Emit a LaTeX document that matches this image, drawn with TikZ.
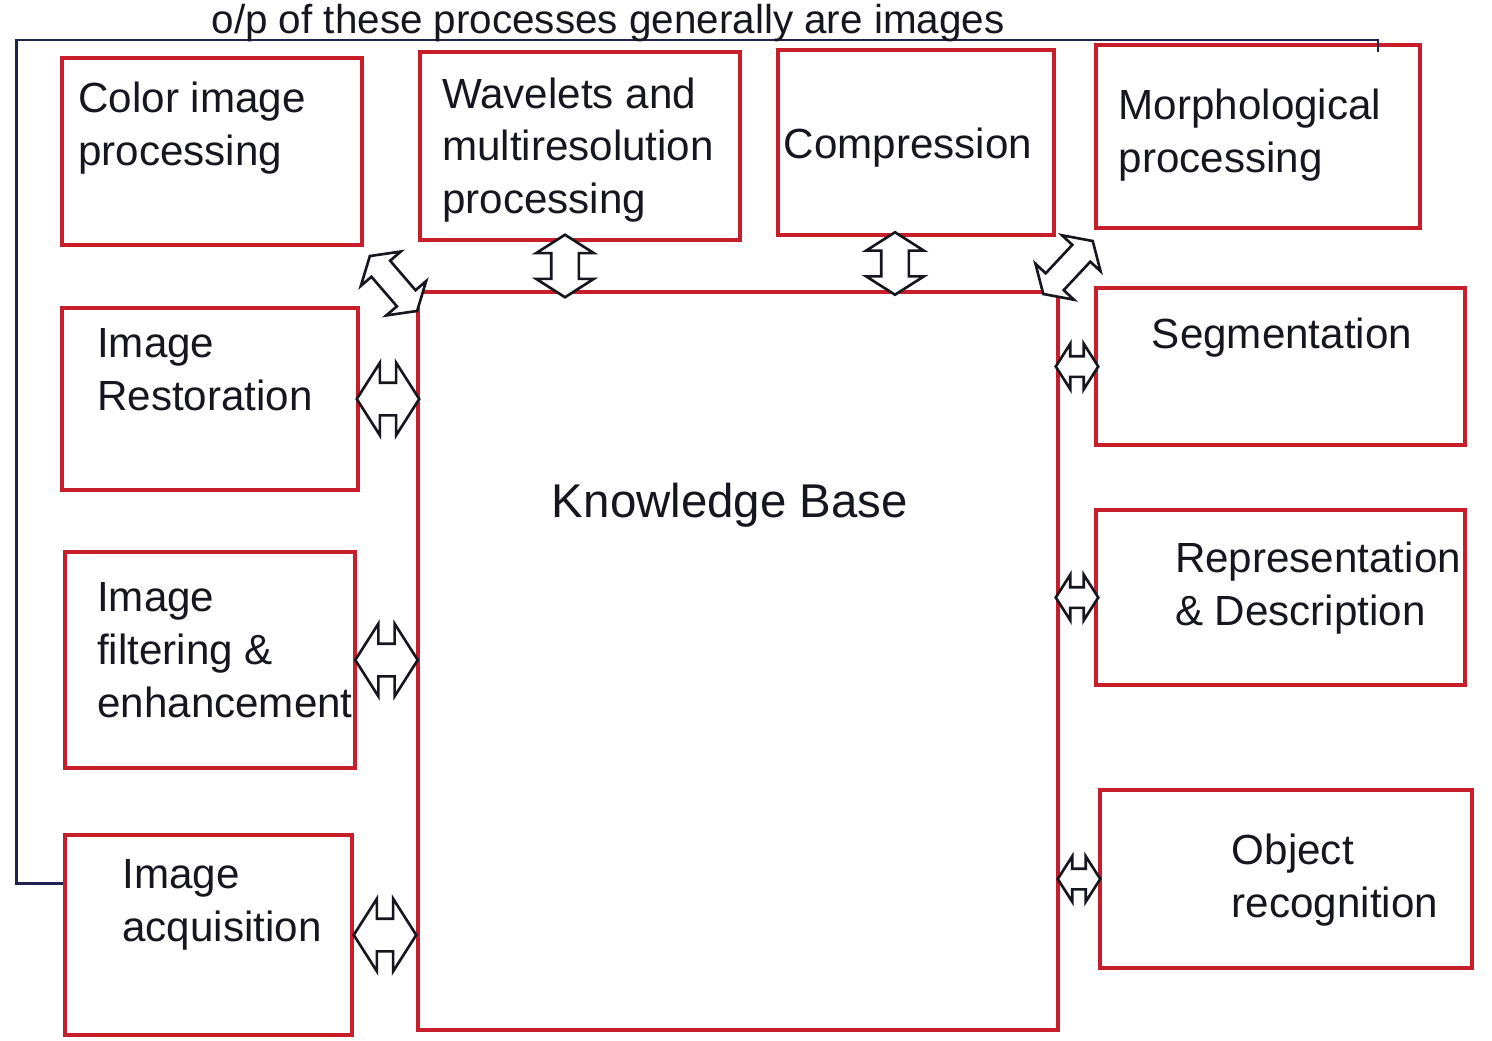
\documentclass[tikz,border=0pt]{standalone}
\usepackage{fontspec}
\setmainfont{Liberation Sans}
\usepackage{xcolor}
\usetikzlibrary{arrows.meta,positioning,fit,calc,shapes.arrows}
\definecolor{BoxRed}{HTML}{C81E2B}
\definecolor{InkBlack}{HTML}{16161F}
\definecolor{InkNavy}{HTML}{1F2250}

\begin{document}
\begin{tikzpicture}[
  x=0.02cm,y=-0.02cm,
  every node/.style={font=\fontsize{24}{30}\selectfont,text=InkBlack},
  box/.style={draw=BoxRed,line width=2pt,inner sep=0pt},
  txt/.style={align=left},
  dbl/.style={double arrow,draw=InkBlack,line width=1.5pt,fill=white,
    inner xsep=0pt,double arrow tip angle=115},
  topdbl/.style={dbl,minimum height=1.25cm,inner ysep=0.25cm,double arrow head extend=0.3cm},
  diagdbl/.style={dbl,minimum height=1.45cm,inner ysep=0.22cm,double arrow head extend=0.28cm},
  leftdbl/.style={dbl,minimum height=1.25cm,inner ysep=0.3cm,double arrow head extend=0.4cm},
  rightdbl/.style={dbl,minimum height=0.85cm,inner ysep=0.18cm,double arrow head extend=0.25cm},
  feedback/.style={draw=InkNavy,line width=1.5pt}
]
  \useasboundingbox (0,0) rectangle (1492,1041);

  % process boxes
  \node[box,fit={(62,58) (362,245)}] (color) {};
  \node[box,fit={(420,52) (740,240)}] (wav) {};
  \node[box,fit={(778,50) (1054,235)}] (comp) {};
  \node[box,fit={(1096,45) (1420,228)}] (morph) {};
  \node[box,fit={(62,308) (358,490)}] (rest) {};
  \node[box,fit={(65,552) (355,768)}] (filt) {};
  \node[box,fit={(65,835) (352,1035)}] (acq) {};
  \node[box,fit={(418,292) (1058,1030)}] (kb) {};
  \node[box,fit={(1096,288) (1465,445)}] (seg) {};
  \node[box,fit={(1096,510) (1465,685)}] (rep) {};
  \node[box,fit={(1100,790) (1472,968)}] (obj) {};

  % box texts
  \node[txt] (colortxt) at (192,128) {Color image\\processing};
  \node[txt] (wavtxt) at (578,150) {Wavelets and\\multiresolution\\processing};
  \node (comptxt) at (908,148) {Compression};
  \node[txt] (morphtxt) at (1250,135) {Morphological\\processing};
  \node[txt] (resttxt) at (205,370) {Image\\Restoration};
  \node[font=\fontsize{27}{32}\selectfont] (kbtxt) at (730,505) {Knowledge Base};
  \node[txt] (filttxt) at (225,650) {Image\\filtering \&\\enhancement};
  \node[txt] (acqtxt) at (222,905) {Image\\acquisition};
  \node (segtxt) at (1282,338) {Segmentation};
  \node[txt] (reptxt) at (1318,588) {Representation\\\& Description};
  \node[txt] (objtxt) at (1335,880) {Object\\recognition};

  % two-way arrows to the knowledge base
  \coordinate (wavs) at ($(wav.south)+(-15,0)$);
  \coordinate (comps) at ($(comp.south)+(-21,0)$);
  \path (wavs) -- (wavs |- kb.north) node[topdbl,midway,sloped] (awav) {};
  \path (comps) -- (comps |- kb.north) node[topdbl,midway,sloped] (acomp) {};
  \path ($(color.south east)+(5,8)$) -- ($(kb.north west)+(2,22)$)
    node[diagdbl,midway,sloped] (acolor) {};
  \path ($(kb.north east)+(-13,0)$) -- ($(morph.south west)+(-5,15)$)
    node[diagdbl,midway,sloped] (amorph) {};
  \foreach \b in {rest,filt,acq} {
    \path (\b.east) -- (\b.east -| kb.west) node[leftdbl,midway] (a\b) {};
  }
  \foreach \b in {seg,rep,obj} {
    \path (\b.west) -- (\b.west -| kb.east) node[rightdbl,midway] (a\b) {};
  }

  % feedback line
  \coordinate (fbend) at (1378,52);
  \draw[feedback] ($(acq.north west)+(0,50)$) -- ++(-47,0) |- ($(fbend)+(0,-12)$) -- (fbend);
  \node[font=\fontsize{23}{28}\selectfont,anchor=base] (optxt) at (608,33)
    {o/p of these processes generally are images};
\end{tikzpicture}
\end{document}
